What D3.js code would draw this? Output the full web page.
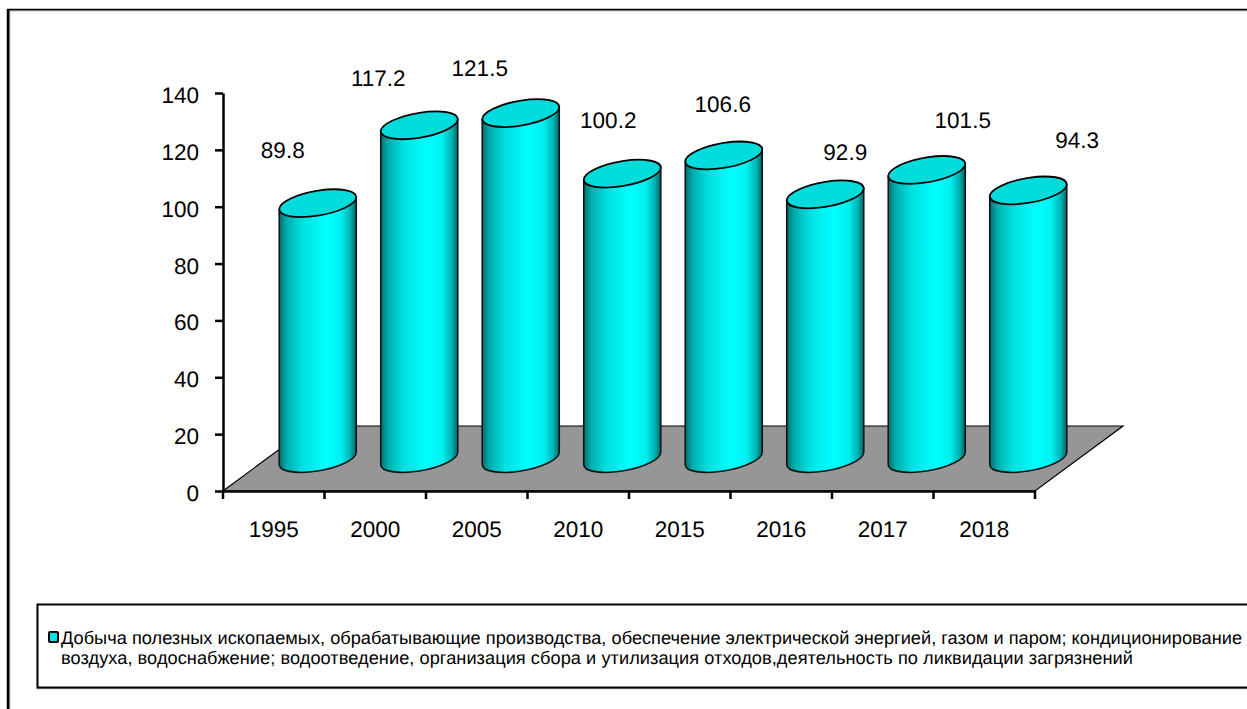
<!DOCTYPE html>
<html>
<head>
<meta charset="utf-8">
<script src="https://cdn.jsdelivr.net/npm/d3@7"></script>
<style>
  html, body { margin: 0; padding: 0; background: #fff; overflow: hidden; }
  text { font-family: "Liberation Sans", Arial, sans-serif; fill: #000; text-rendering: geometricPrecision; }
</style>
</head>
<body>
<svg id="chart"></svg>
<script>
const years = ["1995", "2000", "2005", "2010", "2015", "2016", "2017", "2018"];
const values = [89.8, 117.2, 121.5, 100.2, 106.6, 92.9, 101.5, 94.3];
const yTicks = [0, 20, 40, 60, 80, 100, 120, 140];
const legendLines = [
  "Добыча полезных ископаемых, обрабатывающие производства, обеспечение электрической энергией, газом и паром; кондиционирование",
  "воздуха, водоснабжение; водоотведение, организация сбора и утилизация отходов,деятельность по ликвидации загрязнений"
];
// labels were dragged by hand in the original, so each one has its own nudge
const labelDx = [-35, -41, -41, -14, -1, 20, 36, 49];
const labelDy = [-53, -47, -45, -54, -51, -42, -50, -50];

const width = 1247;
const height = 709;
const depthX = 88;
const depthY = 65;
const barW = 77;
const ryE = 12.5;
const shear = -9;
const legendWidths = [1181, 1072];

const svg = d3.select("#chart")
    .attr("width", width)
    .attr("height", height);

const x = d3.scaleBand()
    .domain(years)
    .range([223, 1035]);

const y = d3.scaleLinear()
    .domain([0, 140])
    .range([491, 93]);

const defs = svg.append("defs");
const grad = defs.append("linearGradient").attr("id", "cyl");
[[0, "#007070"], [0.1, "#00aeae"], [0.3, "#00e0e0"], [0.6, "#00ffff"], [0.8, "#00f0f0"], [0.92, "#00b4b4"], [1, "#006868"]].forEach(s => {
  grad.append("stop").attr("offset", s[0]).attr("stop-color", s[1]);
});

// outer frame, the grey copy is the soft edge the lines have in the original
svg.append("rect")
    .attr("x", 9.5).attr("y", 10.5)
    .attr("width", 1300).attr("height", 800)
    .attr("fill", "#fff").attr("stroke", "#999").attr("stroke-width", 1.5);
svg.append("rect")
    .attr("x", 8).attr("y", 9.5)
    .attr("width", 1300).attr("height", 800)
    .attr("fill", "none").attr("stroke", "#000").attr("stroke-width", 1.5);
svg.append("line")
    .attr("x1", 8).attr("x2", 8).attr("y1", 9).attr("y2", height)
    .attr("stroke", "#000").attr("stroke-width", 2.5);

// floor
const floor = d3.path();
floor.moveTo(x.range()[0], y(0));
floor.lineTo(x.range()[1], y(0));
floor.lineTo(x.range()[1] + depthX, y(0) - depthY);
floor.lineTo(x.range()[0] + depthX, y(0) - depthY);
floor.closePath();
svg.append("path")
    .attr("d", floor.toString())
    .attr("fill", "#969696").attr("stroke", "#000").attr("stroke-width", 1.2);

// axes
const axisY = svg.append("g")
    .attr("transform", `translate(${x.range()[0]},0)`)
    .call(d3.axisLeft(y).tickValues(yTicks).tickSize(8).tickPadding(16).tickSizeOuter(0));
const axisX = svg.append("g")
    .attr("transform", `translate(0,${y(0)})`)
    .call(d3.axisBottom(x).tickSize(0).tickPadding(37));

axisX.selectAll(".tick text").attr("font-size", 22.5).attr("dy", "0.4em");
axisY.selectAll(".tick text").attr("font-size", 22.5).attr("dy", "0.42em");
axisY.selectAll("path, line").attr("stroke", "#000").attr("stroke-width", 2.5);
axisX.selectAll("path, line").attr("stroke", "#000").attr("stroke-width", 2.5);

// x ticks sit on the band edges, not the band centres
svg.append("g").selectAll("line")
    .data(years.concat("end"))
    .enter()
    .append("line")
    .attr("x1", (d, i) => x.range()[0] + i * x.step())
    .attr("x2", (d, i) => x.range()[0] + i * x.step())
    .attr("y1", y(0))
    .attr("y2", y(0) + 8)
    .attr("stroke", "#000").attr("stroke-width", 2.5);

// cylinders
const bars = svg.selectAll(".bar")
    .data(values)
    .enter()
    .append("g")
    .attr("class", "bar")
    .attr("transform", (d, i) => `translate(${x(years[i]) + x.bandwidth() / 2 + depthX / 2},0)`);

const cyl = bars.append("g")
    .attr("transform", d => `translate(0,${y(0) - depthY / 2}) skewY(${shear})`);

cyl.append("path")
    .attr("d", d => {
      const h = y(0) - y(d);
      const r = barW / 2;
      return `M${-r},${-h}L${-r},0A${r},${ryE} 0 0 0 ${r},0L${r},${-h}Z`;
    })
    .attr("fill", "url(#cyl)")
    .attr("stroke", "#111").attr("stroke-width", 1.6);

cyl.append("ellipse")
    .attr("cy", d => y(d) - y(0))
    .attr("rx", barW / 2)
    .attr("ry", ryE)
    .attr("fill", "#00dcdc")
    .attr("stroke", "#000").attr("stroke-width", 1.8);

// value labels
bars.append("text")
    .text(d => d.toFixed(1))
    .attr("x", (d, i) => labelDx[i])
    .attr("y", (d, i) => y(d) - depthY / 2 + labelDy[i])
    .attr("dy", "0.35em")
    .attr("text-anchor", "middle")
    .attr("font-size", 22.5);

// legend
svg.append("rect")
    .attr("x", 37.5).attr("y", 605.5)
    .attr("width", 1300).attr("height", 83)
    .attr("fill", "none").attr("stroke", "#aaa").attr("stroke-width", 1.5);
svg.append("rect")
    .attr("x", 37.5).attr("y", 604.5)
    .attr("width", 1300).attr("height", 83)
    .attr("fill", "#fff").attr("stroke", "#000").attr("stroke-width", 2);
svg.append("rect")
    .attr("x", 49).attr("y", 632)
    .attr("width", 9).attr("height", 10)
    .attr("rx", 1)
    .attr("fill", "#00e6e6").attr("stroke", "#000").attr("stroke-width", 2);
svg.selectAll(".legend-line")
    .data(legendLines)
    .enter()
    .append("text")
    .attr("class", "legend-line")
    .attr("x", 61)
    .attr("y", (d, i) => 643.5 + i * 20.5)
    .attr("font-size", 18.2)
    .attr("textLength", (d, i) => legendWidths[i])
    .text(d => d);
</script>
</body>
</html>
